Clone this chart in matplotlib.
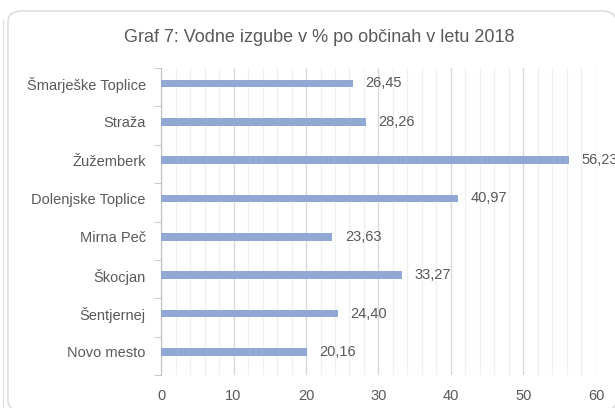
import numpy as np
import matplotlib
matplotlib.use('Agg')
import matplotlib.pyplot as plt
from matplotlib.patches import FancyBboxPatch
from matplotlib.lines import Line2D

plt.rcParams['font.family'] = ['Liberation Sans', 'DejaVu Sans']

obcine = ['Šmarješke Toplice', 'Straža', 'Žužemberk', 'Dolenjske Toplice',
          'Mirna Peč', 'Škocjan', 'Šentjernej', 'Novo mesto']
izgube = [26.45, 28.26, 56.23, 40.97, 23.63, 33.27, 24.40, 20.16]
x_ticks = [0, 10, 20, 30, 40, 50, 60]

TXT = '#595959'

fig = plt.figure(figsize=(6.15, 4.08), dpi=100)

# frame around the chart (bottom edge falls just outside the picture)
fig.patches.append(FancyBboxPatch((8/615, -3/408), 608/615, 400/408,
                                  boxstyle='round,pad=0,rounding_size=0.025',
                                  transform=fig.transFigure, fill=False,
                                  edgecolor='#d9d9d9', linewidth=1.0))
fig.lines.append(Line2D([2.5/615, 2.5/615], [0, 388/408], transform=fig.transFigure,
                        color='#e3e3e3', linewidth=1.0))

ax = fig.add_axes([161/615, 1 - 375/408, 435/615, 307/408])

y = np.arange(len(obcine))
ax.barh(y, izgube, height=0.2, color='#91A8D4', zorder=3)

for yi, v in zip(y, izgube):
    ax.annotate('{:.2f}'.format(v).replace('.', ','), (v, yi), xytext=(9, 0),
                textcoords='offset points', va='center', ha='left',
                fontsize=10.5, color=TXT, annotation_clip=False)

ax.set_xlim(0, 60)
ax.set_ylim(len(obcine) - 0.4, -0.4)
ax.set_xticks(x_ticks)
ax.set_xticks(np.arange(0, 61, 2), minor=True)
ax.grid(axis='x', which='major', color='#d9d9d9', linewidth=1.0, zorder=0)
ax.grid(axis='x', which='minor', color='#f0f0f0', linewidth=1.0, zorder=0)

ax.set_yticks(y)
ax.set_yticklabels(obcine)
ax.set_yticks(np.arange(len(obcine) + 1) - 0.4, minor=True)
ax.tick_params(axis='y', which='major', length=0, pad=11, labelsize=10.5, labelcolor=TXT)
ax.tick_params(axis='y', which='minor', length=5, color='#bfbfbf', direction='out')
ax.tick_params(axis='x', which='both', length=0, pad=10, labelsize=10.5, labelcolor=TXT)

for s in ['top', 'right', 'bottom']:
    ax.spines[s].set_visible(False)
ax.spines['left'].set_color('#bfbfbf')

fig.text(319/615, 1 - 37/408, 'Graf 7: Vodne izgube v % po občinah v letu 2018',
         ha='center', va='center', fontsize=13, color=TXT)

fig.savefig('out.png', dpi=100)
